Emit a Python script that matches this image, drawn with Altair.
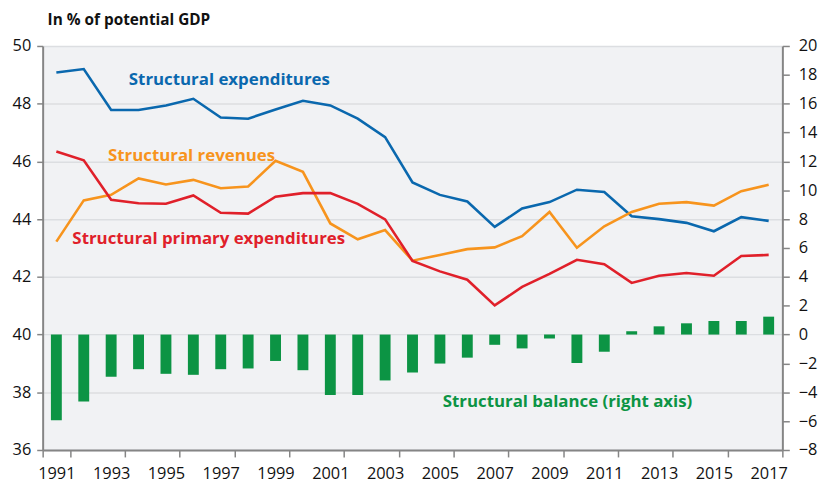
import altair as alt
import pandas as pd

years = list(range(1991, 2018))
expenditures = [49.08, 49.2, 47.78, 47.78, 47.94, 48.17, 47.52, 47.48, 47.8, 48.1,
                47.94, 47.48, 46.84, 45.27, 44.84, 44.61, 43.73, 44.37, 44.59, 45.02,
                44.94, 44.1, 44.0, 43.87, 43.58, 44.07, 43.94]
revenues = [43.22, 44.65, 44.84, 45.41, 45.2, 45.36, 45.07, 45.13, 46.02, 45.64,
            43.85, 43.3, 43.62, 42.56, 42.76, 42.96, 43.02, 43.41, 44.25, 43.01,
            43.75, 44.25, 44.53, 44.59, 44.47, 44.97, 45.19]
primary = [46.34, 46.04, 44.67, 44.55, 44.53, 44.82, 44.22, 44.19, 44.78, 44.9,
           44.9, 44.53, 43.99, 42.55, 42.19, 41.9, 41.01, 41.65, 42.1, 42.59,
           42.44, 41.79, 42.04, 42.13, 42.04, 42.72, 42.76]
balance = [-5.94, -4.64, -2.92, -2.4, -2.72, -2.79, -2.4, -2.35, -1.83, -2.47,
           -4.19, -4.19, -3.18, -2.63, -2.01, -1.6, -0.71, -0.96, -0.27, -1.97,
           -1.19, 0.23, 0.57, 0.78, 0.94, 0.94, 1.24]

series_names = ["Structural expenditures", "Structural revenues", "Structural primary expenditures"]
series_colors = ["#0A68AE", "#F7941D", "#E0202A"]
green = "#0C9444"
odd_years = [y for y in years if y % 2 == 1]

lines_df = pd.DataFrame({
    "year": years * 3,
    "value": expenditures + revenues + primary,
    "series": [series_names[0]] * 27 + [series_names[1]] * 27 + [series_names[2]] * 27,
})
bars_df = pd.DataFrame({"year": years, "balance": balance})

FONT = "Open Sans"
AXIS_GRAY = "#858585"

x_enc = alt.X(
    "year:O",
    scale=alt.Scale(paddingInner=0, paddingOuter=0),
    axis=alt.Axis(values=odd_years, tickBand="extent", labelAngle=0, title=None,
                  labelFontSize=16.5, labelPadding=9, tickSize=7, labelColor="#111"),
)

bars = alt.Chart(bars_df).mark_bar(size=11, color=green).encode(
    x=x_enc,
    y=alt.Y("balance:Q",
            scale=alt.Scale(domain=[-8, 20], nice=False, zero=False),
            axis=alt.Axis(orient="right", values=list(range(-8, 21, 2)), grid=False,
                          title=None, labelFontSize=16.5, labelPadding=9, tickSize=7,
                          labelColor="#111")),
)

lines = alt.Chart(lines_df).mark_line(strokeWidth=2.6).encode(
    x=x_enc,
    y=alt.Y("value:Q",
            scale=alt.Scale(domain=[36, 50], nice=False, zero=False),
            axis=alt.Axis(orient="left", values=list(range(36, 51, 2)), grid=True,
                          title=None, labelFontSize=16.5, labelPadding=6, tickSize=6,
                          labelColor="#111")),
    color=alt.Color("series:N", scale=alt.Scale(domain=series_names, range=series_colors),
                    legend=None),
)

def label(text, px, py, color, size=17, weight="bold"):
    return alt.Chart(pd.DataFrame({"t": [text]})).mark_text(
        align="left", baseline="middle", fontSize=size, fontWeight=weight,
        color=color, font=FONT,
    ).encode(text="t:N", x=alt.value(px), y=alt.value(py))

annotations = [
    label("Structural expenditures", 87, 34, series_colors[0]),
    label("Structural revenues", 66, 111, series_colors[1]),
    label("Structural primary expenditures", 30, 195, series_colors[2]),
    label("Structural balance (right axis)", 404, 360, green),
    label("In % of potential GDP", 5, -26, "#111", size=15.5),
]

chart = alt.layer(bars, lines, *annotations).resolve_scale(y="independent").properties(
    width=747, height=408,
    autosize=alt.AutoSizeParams(type="none"),
    padding={"left": 35, "top": 36, "right": 38, "bottom": 33},
).configure(font=FONT).configure_view(fill="#F1F2F4", stroke=None).configure_axis(
    domainColor=AXIS_GRAY, domainWidth=2, tickColor=AXIS_GRAY, tickWidth=1.5,
    gridColor="#DCDEE1", gridWidth=1.5, labelFont=FONT,
)

chart.save("out.html", embed_options={"renderer": "svg", "actions": False})
